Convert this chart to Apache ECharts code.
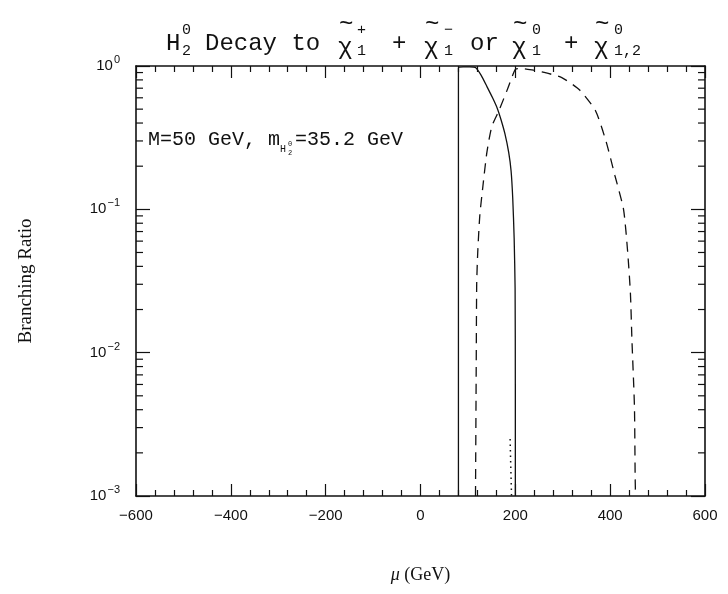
<!DOCTYPE html>
<html>
<head>
<meta charset="utf-8">
<script src="https://cdn.jsdelivr.net/npm/echarts@6/dist/echarts.min.js"></script>
<style>
html, body { margin: 0; padding: 0; background: #fff; }
#main { width: 728px; height: 594px; }
</style>
</head>
<body>
<div id="main"></div>
<script>
// chargino pair (solid)
var solidMu = [80, 80, 90, 104, 116, 128, 140, 152, 162, 170, 178, 186, 191, 194.5, 197.5, 199.5, 200, 200];
var solidBr = [0.001, 0.97, 0.985, 0.985, 0.975, 0.86, 0.72, 0.6, 0.506, 0.42, 0.337, 0.25, 0.186, 0.12, 0.063, 0.028, 0.006, 0.001];
// neutralino pair (dashed)
var dashedMu = [116, 117.5, 118.5, 120.7, 125, 131.6, 140, 150.4, 165.6, 185, 192, 200.4, 214.5, 235, 256.4, 298, 335.6, 369.1, 391.3, 409.8, 428.2, 437, 442.7, 445.9, 451.2, 452.7, 453.5];
var dashedBr = [0.001, 0.008, 0.03, 0.05, 0.09, 0.145, 0.25, 0.379, 0.49, 0.71, 0.82, 0.95, 0.96, 0.94, 0.91, 0.83, 0.68, 0.487, 0.298, 0.173, 0.10, 0.05, 0.026, 0.0123, 0.0042, 0.00136, 0.001];
// short dotted piece near the bottom
var dottedMu = [189, 190, 192];
var dottedBr = [0.0025, 0.0018, 0.001];

var xMin = -600, xMax = 600, xStep = 200;
var yMin = 0.001, yMax = 1;

function pairs(xs, ys) {
    var out = [];
    for (var i = 0; i < xs.length; i++) out.push([xs[i], ys[i]]);
    return out;
}

// minor ticks of the log axis (2..9 in each decade)
var minorY = [];
for (var e = -3; e < 0; e++) {
    for (var k = 2; k <= 9; k++) minorY.push([xMin, k * Math.pow(10, e)]);
}

var ink = '#111';
var mono = '"Liberation Mono", "DejaVu Sans Mono", monospace';
var serif = '"Liberation Serif", "DejaVu Serif", serif';
var sans = '"Liberation Sans", Arial, sans-serif';

function txt(s, x, y, size, family) {
    return {
        type: 'text', x: x, y: y, silent: true,
        style: { text: s, fontSize: size, fontFamily: family || mono, fill: ink, verticalAlign: 'middle' }
    };
}

// title pieces, stacked super/subscripts done by hand
var T = 24, S = 15;
var title = [
    txt('H', 166, 44, T), txt('0', 182, 30, S), txt('2', 182, 51, S),
    txt('Decay to', 205, 44, T),
    txt('χ', 338, 48, T), txt('~', 339, 25, T), txt('+', 357, 30, S), txt('1', 357, 51, S),
    txt('+', 392, 44, T),
    txt('χ', 424, 48, T), txt('~', 425, 25, T), txt('−', 444, 30, S), txt('1', 444, 51, S),
    txt('or', 470, 44, T),
    txt('χ', 512, 48, T), txt('~', 513, 25, T), txt('0', 532, 30, S), txt('1', 532, 51, S),
    txt('+', 564, 44, T),
    txt('χ', 594, 48, T), txt('~', 595, 25, T), txt('0', 614, 30, S), txt('1,2', 614, 51, S)
];
var note = [
    txt('M=50 GeV, m', 148, 140, 20),
    txt('H', 280, 149, 10), txt('0', 288, 144, 7), txt('2', 288, 153, 7),
    txt('=35.2 GeV', 295, 140, 20)
];

var myChart = echarts.init(document.getElementById('main'));
var option = {
    backgroundColor: '#fff',
    animation: false,
    grid: { left: 136, right: 23, top: 66, bottom: 98 },
    xAxis: [{
        type: 'value', min: xMin, max: xMax, interval: xStep,
        name: '{i|μ} (GeV)', nameLocation: 'middle', nameGap: 70,
        nameTextStyle: { fontFamily: serif, fontSize: 18, color: ink, rich: { i: { fontFamily: serif, fontStyle: 'italic', fontSize: 18, color: ink } } },
        axisLine: { onZero: false, lineStyle: { color: ink, width: 1.6 } },
        axisTick: { inside: true, length: 12, lineStyle: { color: ink, width: 1.2 } },
        minorTick: { show: true, splitNumber: 5, length: 6, lineStyle: { color: ink, width: 1.2 } },
        axisLabel: {
            fontFamily: sans, fontSize: 15, color: ink, margin: 12,
            formatter: function (v) { return String(v).replace('-', '−'); }
        },
        splitLine: { show: false }
    }, {
        type: 'value', min: xMin, max: xMax, interval: xStep, position: 'top',
        axisLine: { onZero: false, lineStyle: { color: ink, width: 1.6 } },
        axisTick: { inside: true, length: 12, lineStyle: { color: ink, width: 1.2 } },
        minorTick: { show: true, splitNumber: 5, length: 6, lineStyle: { color: ink, width: 1.2 } },
        axisLabel: { show: false },
        splitLine: { show: false }
    }],
    yAxis: [{
        type: 'log', logBase: 10, min: yMin, max: yMax,
        name: 'Branching Ratio', nameLocation: 'middle', nameGap: 100,
        nameTextStyle: { fontFamily: serif, fontSize: 19, color: ink },
        axisLine: { show: true, onZero: false, lineStyle: { color: ink, width: 1.6 } },
        axisTick: { inside: true, length: 14, lineStyle: { color: ink, width: 1.2 } },
        axisLabel: {
            margin: 16,
            formatter: function (v) {
                var p = Math.round(Math.log(v) / Math.LN10);
                return '{b|10}{s|' + (p === 0 ? '0' : '−' + (-p)) + '}';
            },
            rich: {
                b: { fontFamily: sans, fontSize: 15, color: ink },
                s: { fontFamily: sans, fontSize: 11, color: ink, padding: [0, 0, 12, 1] }
            }
        },
        splitLine: { show: false }
    }, {
        type: 'log', logBase: 10, min: yMin, max: yMax, position: 'right',
        axisLine: { show: true, onZero: false, lineStyle: { color: ink, width: 1.6 } },
        axisTick: { inside: true, length: 14, lineStyle: { color: ink, width: 1.2 } },
        axisLabel: { show: false },
        splitLine: { show: false }
    }],
    series: [{
        type: 'line', name: 'chargino', data: pairs(solidMu, solidBr),
        showSymbol: false, symbol: 'none', smooth: 0.2,
        lineStyle: { color: ink, width: 1.3, type: 'solid' }
    }, {
        type: 'line', name: 'neutralino', data: pairs(dashedMu, dashedBr),
        showSymbol: false, symbol: 'none', smooth: 0.2,
        lineStyle: { color: ink, width: 1.3, type: [10, 7] }
    }, {
        type: 'line', name: 'dotted', data: pairs(dottedMu, dottedBr),
        showSymbol: false, symbol: 'none',
        lineStyle: { color: ink, width: 1.5, type: [1.5, 4] }
    }, {
        type: 'custom', name: 'yMinor', data: minorY, silent: true,
        encode: { x: 0, y: 1 },
        renderItem: function (params, api) {
            var p = api.coord([api.value(0), api.value(1)]);
            var cs = params.coordSys;
            var st = { stroke: ink, lineWidth: 1.2 };
            return {
                type: 'group',
                children: [
                    { type: 'line', shape: { x1: cs.x, y1: p[1], x2: cs.x + 7, y2: p[1] }, style: st },
                    { type: 'line', shape: { x1: cs.x + cs.width - 7, y1: p[1], x2: cs.x + cs.width, y2: p[1] }, style: st }
                ]
            };
        }
    }],
    graphic: title.concat(note)
};

myChart.setOption(option);
</script>
</body>
</html>
